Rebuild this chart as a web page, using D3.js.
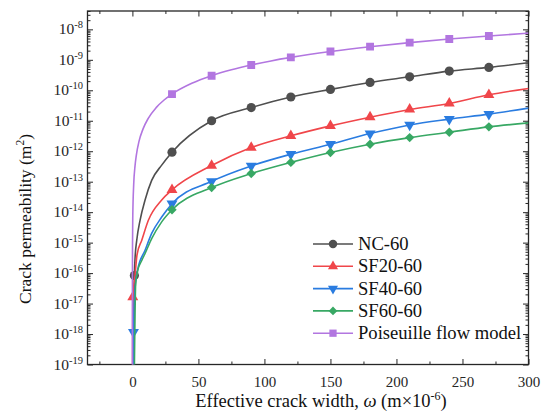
<!DOCTYPE html>
<html>
<head>
<meta charset="utf-8">
<script src="https://cdn.jsdelivr.net/npm/d3@7"></script>
<style>
  body { margin: 0; background: #fff; }
  svg text { font-family: "Liberation Serif", "Times New Roman", "DejaVu Serif", serif; }
</style>
</head>
<body>
<svg id="chart" width="544" height="415"></svg>
<script>
// Axis extents and ticks
const widthDomain = [-34, 300];
const permDomain = [1e-19, 4e-8];
const xMajorTicks = [0, 50, 100, 150, 200, 250, 300];
const xMinorTicks = [-25, 25, 75, 125, 175, 225, 275];
const yDecades = [-19, -18, -17, -16, -15, -14, -13, -12, -11, -10, -9, -8];

// Effective crack width (µm) and crack permeability (m²) for each series
const ncWidth = [0.8, 1.5, 2.0, 3.3, 5.8, 9.6, 14.6, 22.2, 30, 60, 90, 120, 150, 180, 210, 240, 270, 300];
const ncPerm = [1e-20, 8.3e-17, 3e-16, 1.2e-15, 5.4e-15, 2.5e-14, 1.1e-13, 3.5e-13, 9.3e-13, 1.0e-11, 2.7e-11, 6.0e-11, 1.07e-10, 1.81e-10, 2.77e-10, 4.26e-10, 5.64e-10, 7.98e-10];
const ncMarked = [1.5, 30, 60, 90, 120, 150, 180, 210, 240, 270];

const sf20Width = [0.1, 0.3, 2.0, 3.5, 7.1, 12.1, 22.2, 30, 60, 90, 120, 150, 180, 210, 240, 270, 300];
const sf20Perm = [1e-20, 1.63e-17, 8.3e-17, 4e-16, 1.2e-15, 5.4e-15, 2.5e-14, 5.4e-14, 3.4e-13, 1.32e-12, 3.2e-12, 6.8e-12, 1.31e-11, 2.35e-11, 3.7e-11, 7.1e-11, 1.15e-10];
const sf20Marked = [0.3, 30, 60, 90, 120, 150, 180, 210, 240, 270];

const sf40Width = [0.5, 0.8, 2.0, 4.0, 9.6, 14.6, 22.2, 30, 60, 90, 120, 150, 180, 210, 240, 270, 300];
const sf40Perm = [1e-20, 1.15e-18, 3e-17, 1.3e-16, 5.6e-16, 2.0e-15, 6.9e-15, 1.9e-14, 1.03e-13, 3.3e-13, 7.98e-13, 1.7e-12, 3.8e-12, 7.3e-12, 1.13e-11, 1.65e-11, 2.6e-11];
const sf40Marked = [0.8, 30, 60, 90, 120, 150, 180, 210, 240, 270];

const sf60Width = [1.3, 2.5, 4.0, 7.1, 9.6, 14.6, 22.2, 30, 60, 90, 120, 150, 180, 210, 240, 270, 300];
const sf60Perm = [1e-20, 4.6e-17, 1.2e-16, 2.6e-16, 4.4e-16, 1.35e-15, 4.8e-15, 1.2e-14, 6.4e-14, 1.85e-13, 4.3e-13, 9.1e-13, 1.7e-12, 2.8e-12, 4.2e-12, 6.3e-12, 8.5e-12];
const sf60Marked = [30, 60, 90, 120, 150, 180, 210, 240, 270];

const poisWidth = [0.001, 0.003, 0.01, 0.03, 0.1, 0.3, 1, 2, 3, 5, 8, 12, 18, 24, 30, 45, 60, 75, 90, 105, 120, 150, 180, 210, 240, 270, 300];
const poisPerm = [8.3e-20, 7.5e-19, 8.3e-18, 7.5e-17, 8.3e-16, 7.5e-15, 8.3e-14, 3.3e-13, 7.5e-13, 2.1e-12, 5.3e-12, 1.2e-11, 2.7e-11, 4.8e-11, 7.5e-11, 1.69e-10, 3.0e-10, 4.69e-10, 6.75e-10, 9.19e-10, 1.2e-9, 1.875e-9, 2.7e-9, 3.675e-9, 4.8e-9, 6.075e-9, 7.5e-9];
const poisMarked = [30, 60, 90, 120, 150, 180, 210, 240, 270];

const series = [
  { name: "NC-60", width: ncWidth, perm: ncPerm, marked: ncMarked, color: "#4f4f4f", symbol: "circle" },
  { name: "SF20-60", width: sf20Width, perm: sf20Perm, marked: sf20Marked, color: "#f0464a", symbol: "triangleUp" },
  { name: "SF40-60", width: sf40Width, perm: sf40Perm, marked: sf40Marked, color: "#2a7ce0", symbol: "triangleDown" },
  { name: "SF60-60", width: sf60Width, perm: sf60Perm, marked: sf60Marked, color: "#38a864", symbol: "diamond" },
  { name: "Poiseuille flow model", width: poisWidth, perm: poisPerm, marked: poisMarked, color: "#b276e0", symbol: "square" }
];

const svg = d3.select("#chart");
const plot = { left: 87.5, right: 528.5, top: 11, bottom: 364.5 };
const axisColor = "#262626";
const serif = "Liberation Serif, Times New Roman, DejaVu Serif, serif";

const x = d3.scaleLinear().domain(widthDomain).range([plot.left, plot.right]);
const y = d3.scaleLog().domain(permDomain).range([plot.bottom, plot.top]);

svg.append("defs").append("clipPath").attr("id", "plotClip")
  .append("rect")
  .attr("x", plot.left).attr("y", plot.top)
  .attr("width", plot.right - plot.left).attr("height", plot.bottom - plot.top);

// Minor log ticks between decades
const yMinor = [];
yDecades.slice(0, -1).forEach(d => { for (let k = 2; k <= 9; k++) yMinor.push(k * Math.pow(10, d)); });
yMinor.push(2e-8, 3e-8, 4e-8);
const yMajor = yDecades.map(d => Math.pow(10, d));

function dropDomain(sel) { sel.select(".domain").remove(); }

// Bottom axis (ticks pointing inward)
svg.append("g").attr("transform", `translate(0,${plot.bottom})`)
  .call(d3.axisBottom(x).tickValues(xMajorTicks).tickSize(-5.5).tickPadding(12).tickFormat(d3.format("d")))
  .call(dropDomain)
  .call(g => g.attr("font-family", serif).attr("font-size", 15))
  .call(g => g.selectAll("text").attr("fill", axisColor));
svg.append("g").attr("transform", `translate(0,${plot.bottom})`)
  .call(d3.axisBottom(x).tickValues(xMinorTicks).tickSize(-3).tickFormat(""))
  .call(dropDomain);

// Top axis
svg.append("g").attr("transform", `translate(0,${plot.top})`)
  .call(d3.axisTop(x).tickValues(xMajorTicks).tickSize(-5.5).tickFormat(""))
  .call(dropDomain);
svg.append("g").attr("transform", `translate(0,${plot.top})`)
  .call(d3.axisTop(x).tickValues(xMinorTicks).tickSize(-3).tickFormat(""))
  .call(dropDomain);

// Left axis
svg.append("g").attr("transform", `translate(${plot.left},0)`)
  .call(d3.axisLeft(y).tickValues(yMajor).tickSize(-5.5).tickFormat(""))
  .call(dropDomain);
svg.append("g").attr("transform", `translate(${plot.left},0)`)
  .call(d3.axisLeft(y).tickValues(yMinor).tickSize(-3).tickFormat(""))
  .call(dropDomain);

// Right axis
svg.append("g").attr("transform", `translate(${plot.right},0)`)
  .call(d3.axisRight(y).tickValues(yMajor).tickSize(-5.5).tickFormat(""))
  .call(dropDomain);
svg.append("g").attr("transform", `translate(${plot.right},0)`)
  .call(d3.axisRight(y).tickValues(yMinor).tickSize(-3).tickFormat(""))
  .call(dropDomain);

svg.selectAll(".tick line").attr("stroke", axisColor).attr("stroke-width", 1);

// Y tick labels as powers of ten
const yLabels = svg.append("g").attr("fill", axisColor).attr("font-family", serif);
yDecades.forEach(d => {
  const t = yLabels.append("text")
    .attr("x", 83).attr("y", y(Math.pow(10, d)) + 5)
    .attr("text-anchor", "end").attr("font-size", 15.5);
  t.append("tspan").text("10");
  t.append("tspan").attr("dy", -6).attr("font-size", 10.5).text(String(d));
});

// Frame
svg.append("rect")
  .attr("x", plot.left).attr("y", plot.top)
  .attr("width", plot.right - plot.left).attr("height", plot.bottom - plot.top)
  .attr("fill", "none").attr("stroke", axisColor).attr("stroke-width", 1.3);

// Axis titles
const xTitle = svg.append("text")
  .attr("x", 321).attr("y", 407)
  .attr("text-anchor", "middle").attr("font-size", 18.5).attr("fill", "#111")
  .attr("font-family", serif);
xTitle.append("tspan").text("Effective crack width, ");
xTitle.append("tspan").attr("font-style", "italic").text("ω");
xTitle.append("tspan").text(" (m×10");
xTitle.append("tspan").attr("dy", -7).attr("font-size", 12).text("-6");
xTitle.append("tspan").attr("dy", 7).text(")");

const yTitle = svg.append("text")
  .attr("transform", "translate(31,219) rotate(-90)")
  .attr("text-anchor", "middle").attr("font-size", 17.5).attr("fill", "#111")
  .attr("font-family", serif);
yTitle.append("tspan").text("Crack permeability (m");
yTitle.append("tspan").attr("dy", -7).attr("font-size", 11.5).text("2");
yTitle.append("tspan").attr("dy", 7).text(")");

// Marker shapes
function symbolPath(kind, scale) {
  const s = scale || 1;
  switch (kind) {
    case "circle": return d3.symbol(d3.symbolCircle, 66 * s)();
    case "square": return d3.symbol(d3.symbolSquare, 62 * s)();
    case "triangleUp": return d3.symbol(d3.symbolTriangle, 52 * s)();
    case "triangleDown": return d3.symbol(d3.symbolTriangle, 52 * s)();
    case "diamond": return d3.symbol(d3.symbolSquare, 44 * s)();
  }
}
function symbolRotate(kind) {
  if (kind === "triangleDown") return 180;
  if (kind === "diamond") return 45;
  return 0;
}

const line = d3.line()
  .x(d => x(d[0]))
  .y(d => y(d[1]))
  .curve(d3.curveMonotoneX);

const dataLayer = svg.append("g").attr("clip-path", "url(#plotClip)");
series.forEach(s => {
  const pts = s.width.map((w, i) => [w, s.perm[i]]);
  dataLayer.append("path")
    .attr("d", line(pts))
    .attr("fill", "none").attr("stroke", s.color).attr("stroke-width", 1.6);
  const marks = pts.filter(p => s.marked.includes(p[0]));
  dataLayer.selectAll(null).data(marks).enter().append("path")
    .attr("d", symbolPath(s.symbol))
    .attr("transform", d => `translate(${x(d[0])},${y(d[1])}) rotate(${symbolRotate(s.symbol)})`)
    .attr("fill", s.color);
});

// Legend
const legend = svg.append("g").attr("font-family", serif);
series.forEach((s, i) => {
  const cy = 244 + i * 22.3;
  legend.append("line")
    .attr("x1", 313).attr("x2", 353).attr("y1", cy).attr("y2", cy)
    .attr("stroke", s.color).attr("stroke-width", 1.6);
  legend.append("path")
    .attr("d", symbolPath(s.symbol, 0.85))
    .attr("transform", `translate(333,${cy}) rotate(${symbolRotate(s.symbol)})`)
    .attr("fill", s.color);
  legend.append("text")
    .attr("x", 358).attr("y", cy + 6)
    .attr("font-size", 18.6).attr("fill", "#111")
    .text(s.name);
});
</script>
</body>
</html>
